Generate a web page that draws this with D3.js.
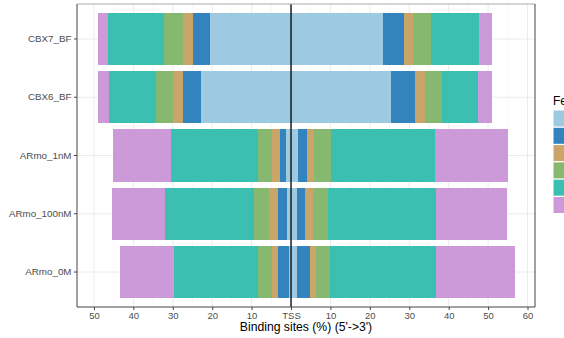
<!DOCTYPE html>
<html>
<head>
<meta charset="utf-8">
<script src="https://cdn.jsdelivr.net/npm/d3@7"></script>
<style>
  html, body { margin: 0; padding: 0; background: #fff; overflow: hidden; }
  svg { display: block; font-family: "Liberation Sans", Arial, sans-serif; }
</style>
</head>
<body>
<svg id="chart" width="564" height="338"></svg>
<script>
// ---- data ----
const samples = ["CBX7_BF", "CBX6_BF", "ARmo_1nM", "ARmo_100nM", "ARmo_0M"];
const features = ["0-1kb", "1-3kb", "3-5kb", "5-10kb", "10-100kb", ">100kb"];
const featureColors = ["#9ecae1", "#3283be", "#c9a56a", "#87b870", "#3bbfb0", "#cc99d9"];
// upstream (5') percentages, per sample, in feature order
const upstream = [
  [20.5, 4.4, 2.4, 4.9, 14.2, 2.5],
  [22.8, 4.6, 2.5, 4.3, 12.0, 2.7],
  [1.2, 1.7, 1.8, 3.6, 22.1, 14.8],
  [1.0, 2.3, 2.3, 3.9, 22.5, 13.3],
  [0.4, 2.9, 1.4, 3.6, 21.5, 13.7]
];
// downstream (3') percentages, per sample, in feature order
const downstream = [
  [23.4, 5.2, 2.4, 4.6, 12.2, 3.2],
  [25.4, 6.0, 2.7, 4.3, 9.1, 3.5],
  [1.75, 2.3, 1.7, 4.3, 26.6, 18.3],
  [1.4, 2.2, 2.0, 3.9, 27.4, 17.8],
  [1.6, 3.2, 1.5, 3.6, 27.0, 19.8]
];
const tickValues = [-50, -40, -30, -20, -10, 0, 10, 20, 30, 40, 50, 60];
const minorTicks = [-45, -35, -25, -15, -5, 5, 15, 25, 35, 45, 55];
const xTitle = "Binding sites (%) (5'->3')";
const legendTitle = "Feature";

// ---- layout ----
const svg = d3.select("#chart");
const panel = { x0: 77, x1: 535, y0: 4, y1: 307 };

const x = d3.scaleLinear().domain([-54.3, 61.9]).range([panel.x0, panel.x1]);
const y = d3.scaleBand().domain(samples).range([panel.y0, panel.y1])
  .paddingInner(0.1).paddingOuter(0.15);

// grid
const g = svg.append("g");
g.selectAll("line.minor").data(minorTicks).join("line")
  .attr("x1", d => x(d)).attr("x2", d => x(d))
  .attr("y1", panel.y0).attr("y2", panel.y1)
  .attr("stroke", "#f2f2f2").attr("stroke-width", 0.6);
g.selectAll("line.major").data(tickValues).join("line")
  .attr("x1", d => x(d)).attr("x2", d => x(d))
  .attr("y1", panel.y0).attr("y2", panel.y1)
  .attr("stroke", "#ebebeb").attr("stroke-width", 1);
g.selectAll("line.hgrid").data(samples).join("line")
  .attr("x1", panel.x0).attr("x2", panel.x1)
  .attr("y1", d => y(d) + y.bandwidth() / 2).attr("y2", d => y(d) + y.bandwidth() / 2)
  .attr("stroke", "#ebebeb").attr("stroke-width", 1);

// bars
const segs = [];
samples.forEach((s, i) => {
  let accL = 0, accR = 0;
  features.forEach((f, j) => {
    const l = upstream[i][j];
    segs.push({ s, j, a: -accL - l, b: -accL });
    accL += l;
    const r = downstream[i][j];
    segs.push({ s, j, a: accR, b: accR + r });
    accR += r;
  });
});
svg.append("g").selectAll("rect").data(segs).join("rect")
  .attr("x", d => x(d.a))
  .attr("width", d => x(d.b) - x(d.a))
  .attr("y", d => y(d.s))
  .attr("height", y.bandwidth())
  .attr("fill", d => featureColors[d.j])
  .attr("shape-rendering", "crispEdges");

// TSS line
svg.append("line")
  .attr("x1", x(0)).attr("x2", x(0))
  .attr("y1", panel.y0).attr("y2", panel.y1)
  .attr("stroke", "#000").attr("stroke-width", 1.3);

// panel border (top edge lighter, as in the reference)
svg.append("line").attr("x1", panel.x0).attr("x2", panel.x1)
  .attr("y1", panel.y0).attr("y2", panel.y0)
  .attr("stroke", "#aaa").attr("stroke-width", 1);
svg.append("path")
  .attr("d", `M${panel.x0},${panel.y0}V${panel.y1}H${panel.x1}V${panel.y0}`)
  .attr("fill", "none").attr("stroke", "#444").attr("stroke-width", 1);

// x axis
const xAxis = d3.axisBottom(x).tickValues(tickValues).tickSize(3).tickPadding(2)
  .tickFormat(d => d === 0 ? "TSS" : String(Math.abs(d)));
const xa = svg.append("g").attr("transform", `translate(0,${panel.y1})`).call(xAxis);
xa.select(".domain").remove();
xa.selectAll(".tick line").attr("stroke", "#444");
xa.selectAll(".tick text").attr("fill", "#4d4d4d").attr("font-size", 9.5)
  .attr("font-family", "Liberation Sans, Arial, sans-serif");

// y axis
const yAxis = d3.axisLeft(y).tickSize(3).tickPadding(2.5);
const ya = svg.append("g").attr("transform", `translate(${panel.x0},0)`).call(yAxis);
ya.select(".domain").remove();
ya.selectAll(".tick line").attr("stroke", "#444");
ya.selectAll(".tick text").attr("fill", "#4d4d4d").attr("font-size", 9.8)
  .attr("font-family", "Liberation Sans, Arial, sans-serif");

// x title
svg.append("text")
  .attr("x", (panel.x0 + panel.x1) / 2).attr("y", 331)
  .attr("text-anchor", "middle").attr("font-size", 12.2).attr("fill", "#000")
  .text(xTitle);

// legend (cut off at the right edge as in the reference)
const lg = svg.append("g").attr("transform", "translate(553,0)");
lg.append("text").attr("x", 0).attr("y", 105).attr("font-size", 12).attr("fill", "#000")
  .text(legendTitle);
lg.selectAll("rect").data(features).join("rect")
  .attr("x", 0.5).attr("y", (d, i) => 110.5 + i * 17.3)
  .attr("width", 16).attr("height", 16)
  .attr("fill", (d, i) => featureColors[i]);
</script>
</body>
</html>
